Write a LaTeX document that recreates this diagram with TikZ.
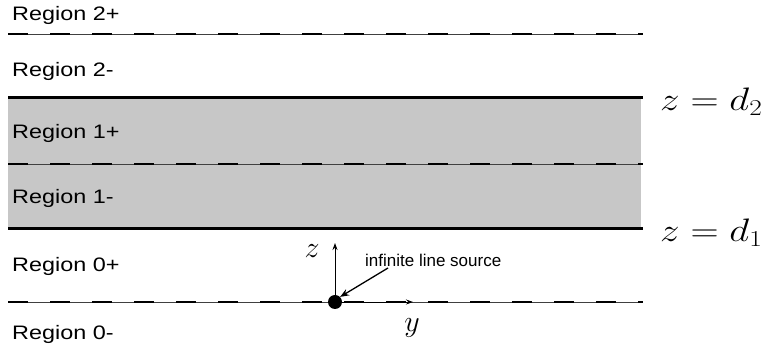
\documentclass[tikz,border=0pt]{standalone}
\usepackage{fix-cm}
\usepackage{graphicx}
\usepackage{fontspec}
\setmainfont{Liberation Sans}
\usetikzlibrary{arrows.meta}

\newcommand{\widetext}[1]{\scalebox{1.2}[1]{#1}}

\begin{document}
\begin{tikzpicture}[
    x=1pt, y=-1pt,
    region/.style={anchor=base west, inner sep=0pt, font=\fontsize{19.5}{22}\selectfont},
    level/.style={anchor=west, inner sep=0pt, font=\fontsize{32.5}{38}\selectfont},
    axislabel/.style={inner sep=0pt, font=\fontsize{30}{34}\selectfont},
    plane/.style={line width=3pt},
    interface/.style={line width=0.6pt, black!75},
    dashes/.style={line width=2.2pt, dash pattern=on 20pt off 22pt},
    axis/.style={-{Stealth[length=7pt, width=5pt]}, line width=0.9pt},
    pointer/.style={-{Stealth[length=9pt, width=7pt]}, line width=1.3pt}
]
\useasboundingbox (0,0) rectangle (764,352);

% Slab between the two planes
\fill[black!22] (8,98) rectangle (641,229);

% Planes and interfaces
\coordinate (d2L) at (8,98);   \coordinate (d2R) at (643,98);
\coordinate (d1L) at (8,229);  \coordinate (d1R) at (643,229);
\coordinate (i2L) at (8,34);   \coordinate (i2R) at (643,34);
\coordinate (i1L) at (8,164);  \coordinate (i1R) at (643,164);
\coordinate (i0L) at (8,302);  \coordinate (i0R) at (643,302);

\draw[plane] (d2L) -- (d2R);
\draw[plane] (d1L) -- (d1R);
\foreach \n in {i2,i1,i0} {
  \draw[interface] (\n L) -- (\n R);
  \draw[dashes] (\n L) -- (\n R);
}

% Region labels
\node[region] (r2p) at (12,21)  {\widetext{Region 2+}};
\node[region] (r2m) at (12,77)  {\widetext{Region 2-}};
\node[region] (r1p) at (12,139) {\widetext{Region 1+}};
\node[region] (r1m) at (12,204) {\widetext{Region 1-}};
\node[region] (r0p) at (12,272) {\widetext{Region 0+}};
\node[region] (r0m) at (12,340) {\widetext{Region 0-}};

% Plane labels
\node[level] (lvl2) at (660,102) {\widetext{$z=d_2$}};
\node[level] (lvl1) at (660,233) {\widetext{$z=d_1$}};

% Line source and axes
\node[circle, fill=black, inner sep=0pt, minimum size=14pt] (src) at (335,302) {};
\coordinate (ztip) at (335,243);
\coordinate (ytip) at (413,302);
\draw[axis] (src.center) -- (ztip);
\draw[axis] (src.center) -- (ytip);
\node[axislabel] (zlab) at (312,251) {$z$};
\node[axislabel] (ylab) at (412,328) {$y$};

\node[anchor=base west, inner sep=0pt, font=\fontsize{17}{19}\selectfont] (srclab) at (365,267) {infinite line source};
\draw[pointer] (388,268) -- (src.north east);

\end{tikzpicture}
\end{document}
